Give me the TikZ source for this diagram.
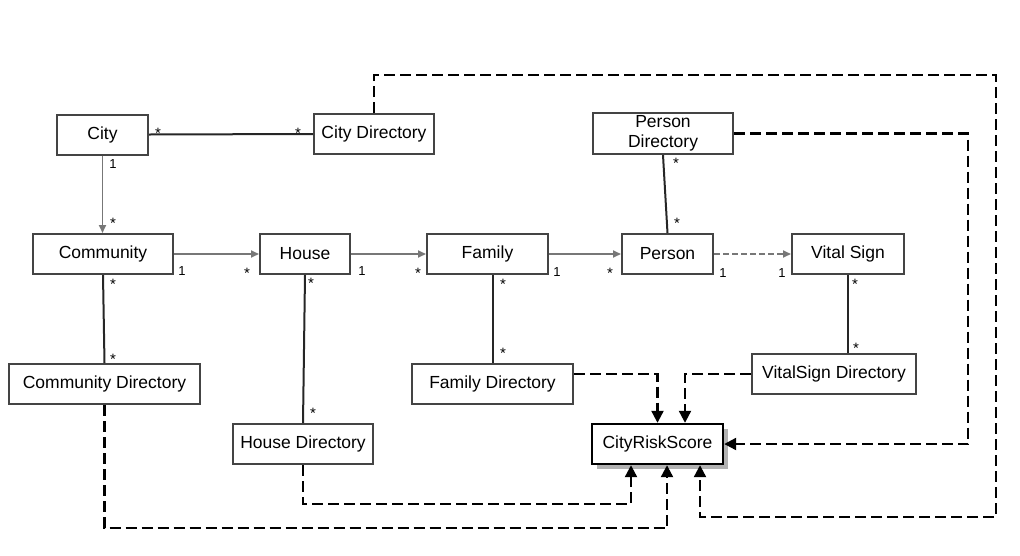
\documentclass[tikz,border=0pt]{standalone}
\usepackage{fontspec}
\setmainfont{Liberation Sans}
\usetikzlibrary{arrows.meta,shadows}
\definecolor{boxgray}{HTML}{444444}
\definecolor{navgray}{HTML}{777777}
\begin{document}
\begin{tikzpicture}[x=1pt,y=-1pt,
 box/.style={draw=boxgray, line width=2pt, fill=white, minimum height=40pt, inner sep=0pt, align=center, font=\fontsize{17.5}{20}\selectfont},
 mult/.style={inner sep=0pt, font=\fontsize{13}{13}\selectfont},
 star/.style={inner sep=0pt, font=\fontsize{15}{15}\selectfont},
 assoc/.style={draw=black!85, line width=2pt},
 nav/.style={draw=navgray, line width=1.7pt, -{Triangle[length=8pt,width=7pt]}},
 navdash/.style={nav, dash pattern=on 6pt off 3pt},
 dep/.style={draw=black, line width=2.2pt, dash pattern=on 11pt off 5pt, -{Triangle[length=12pt,width=12pt]}},
]
\useasboundingbox (0,0) rectangle (1020,555);

% boxes
\node[box, minimum width=91pt] (city) at (102.5,134.5) {City};
\node[box, minimum width=120pt] (citydir) at (374,134) {City Directory};
\node[box, minimum width=140pt, minimum height=41pt] (persondir) at (663,133.5) {Person\\Directory};
\node[box, minimum width=140pt] (community) at (103,254) {Community};
\node[box, minimum width=90pt] (house) at (305,254) {House};
\node[box, minimum width=121pt] (family) at (487.5,254) {Family};
\node[box, minimum width=91pt] (person) at (667.5,254) {Person};
\node[box, minimum width=112pt] (vital) at (848,254) {Vital Sign};
\node[box, minimum width=191pt] (commdir) at (104.5,384) {Community Directory};
\node[box, minimum width=161pt] (familydir) at (492.5,384) {Family Directory};
\node[box, minimum width=164pt] (vsdir) at (834,374) {VitalSign Directory};
\node[box, minimum width=140pt] (housedir) at (303,444) {House Directory};
\node[box, draw=black, line width=2.4pt, minimum width=131pt,
      drop shadow={shadow xshift=4.5pt, shadow yshift=-4.5pt, fill=black!30, opacity=1}] (crs) at (657.5,444) {CityRiskScore};

% associations
\draw[assoc] (city.east) -- (citydir.west);
\draw[nav] (city.south) -- (city.south |- community.north);
\draw[nav] (community.east) -- (house.west);
\draw[nav] (house.east) -- (family.west);
\draw[nav] (family.east) -- (person.west);
\draw[navdash] (person.east) -- (vital.west);
\draw[assoc] (community.south) -- (commdir.north);
\draw[assoc] (house.south) -- (housedir.north);
\draw[assoc] (familydir.north |- family.south) -- (familydir.north);
\draw[assoc] (persondir.south) -- (person.north);
\draw[assoc] (vital.south) -- (vital.south |- vsdir.north);

% dependencies into CityRiskScore
\coordinate (cdTop) at (996,75);
\coordinate (cdBot) at (996,517);
\coordinate (hdBot) at (631,504);
\coordinate (cmBot) at (667,528);
\coordinate (pdRight) at (968,133.5);
\draw[dep] ([yshift=10pt]familydir.east) -| (crs.north);
\draw[dep] (vsdir.west) -| ([xshift=27.5pt]crs.north);
\draw[dep] (persondir.east) -- (pdRight) |- (crs.east);
\draw[dep] (citydir.north) |- (cdTop) -- (cdBot) -| ([xshift=42.5pt]crs.south);
\draw[dep] (housedir.south) |- (hdBot) -- ([xshift=-26.5pt]crs.south);
\draw[dep] (commdir.south) |- (cmBot) -- ([xshift=9.5pt]crs.south);

% multiplicities
\node[star] (s1) at (158,133.5) {*};
\node[star] (s2) at (298,133.5) {*};
\node[mult] (l1) at (113,164) {1};
\node[star] (s3) at (113,223.5) {*};
\node[mult] (l2) at (182,271) {1};
\node[star] (s4) at (247,273.5) {*};
\node[mult] (l3) at (362,271) {1};
\node[star] (s5) at (418,273.5) {*};
\node[mult] (l4) at (557,272) {1};
\node[star] (s6) at (610,273.5) {*};
\node[mult] (l5) at (723,273) {1};
\node[mult] (l6) at (782,273) {1};
\node[star] (s7) at (113,284.5) {*};
\node[star] (s8) at (113,359.5) {*};
\node[star] (s9) at (311,283.5) {*};
\node[star] (s10) at (313,413.5) {*};
\node[star] (s11) at (503,284.5) {*};
\node[star] (s12) at (503,353.5) {*};
\node[star] (s13) at (676,163.5) {*};
\node[star] (s14) at (677,223.5) {*};
\node[star] (s15) at (855,284.5) {*};
\node[star] (s16) at (856,348.5) {*};
\end{tikzpicture}
\end{document}
